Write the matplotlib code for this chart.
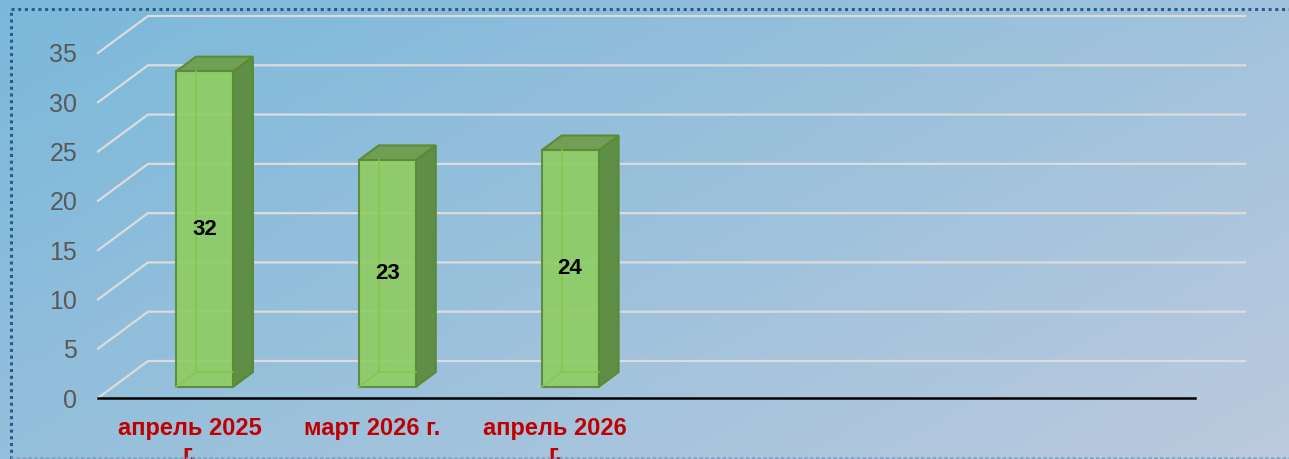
import numpy as np
import matplotlib.pyplot as plt
from matplotlib.patches import Polygon
from matplotlib.lines import Line2D

plt.rcParams['font.family'] = ['Liberation Sans', 'DejaVu Sans']

# данные
categories = ["апрель 2025\nг.", "март 2026 г.", "апрель 2026\nг.", "", "", ""]
values = [32, 23, 24]
yticks = [0, 5, 10, 15, 20, 25, 30, 35]

W, H = 1289, 459
fig = plt.figure(figsize=(W / 100, H / 100), dpi=100)

# фон с градиентом
bg = fig.add_axes([0, 0, 1, 1], zorder=-10)
gx, gy = np.meshgrid(np.linspace(0, 1, 300), np.linspace(0, 1, 120))
t = 0.6 * gx + 0.4 * gy
c0 = np.array([122, 184, 218]) / 255
c1 = np.array([188, 202, 222]) / 255
img = c0[None, None, :] * (1 - t[..., None]) + c1[None, None, :] * t[..., None]
bg.imshow(img, aspect="auto", extent=[0, 1, 0, 1], origin="upper")
bg.set_axis_off()

# рамка
fig.add_artist(Line2D([11 / W, 1], [1 - 9 / H, 1 - 9 / H], color="#2b5b8c", lw=2.2, ls=(0, (1, 1.2))))
fig.add_artist(Line2D([11 / W, 11 / W], [0, 1 - 9 / H], color="#2b5b8c", lw=2.2, ls=(0, (1, 1.2))))
fig.add_artist(Line2D([11 / W, 1], [1.5 / H, 1.5 / H], color="#7f9fbf", lw=1.2, ls=(0, (2, 1.5))))

# передняя плоскость графика
ax = fig.add_axes([98 / W, 61 / H, 1097 / W, 345 / H])
ax.set_facecolor("none")
ax.set_xlim(-0.5, 5.5)
ax.set_ylim(0, 35)

DX = 50 / (1097 / 6)   # глубина по x
DY = 37 / (345 / 35)   # глубина по y
f0, f1 = 0.3, 0.7
w = 57 / (1097 / 6)

# сетка на задней стенке
for v in yticks:
    ax.plot([-0.5, -0.5 + DX, 5.5 + DX], [v, v + DY, v + DY],
            color="#dcdcdc", lw=1.6, clip_on=False, zorder=1)

face = "#8fcd64"
side = "#5f8f47"
top = "#6e9e4e"
edge = "#5a8a32"
inner = "#86c44a"

xs = np.arange(len(values))
for x, v in zip(xs, values):
    l = x - w / 2
    r = x + w / 2
    # боковая грань
    ax.add_patch(Polygon([(r + f0 * DX, f0 * DY), (r + f1 * DX, f1 * DY),
                          (r + f1 * DX, f1 * DY + v), (r + f0 * DX, f0 * DY + v)],
                         closed=True, facecolor=side, edgecolor=edge, lw=1.5, zorder=3, clip_on=False))
    # верхняя грань
    ax.add_patch(Polygon([(l + f0 * DX, f0 * DY + v), (l + f1 * DX, f1 * DY + v),
                          (r + f1 * DX, f1 * DY + v), (r + f0 * DX, f0 * DY + v)],
                         closed=True, facecolor=top, edgecolor=edge, lw=1.5, zorder=3, clip_on=False, alpha=0.95))

ax.bar(xs + f0 * DX, values, width=w, bottom=f0 * DY, color=face, alpha=0.92,
       edgecolor=edge, linewidth=1.5, zorder=4, clip_on=False)

for x, v in zip(xs, values):
    l = x - w / 2
    r = x + w / 2
    # скрытые рёбра, видны сквозь грань
    kw = dict(color=inner, lw=1.2, zorder=4.5, clip_on=False, alpha=0.85)
    ax.plot([l + f1 * DX, l + f1 * DX], [f1 * DY, f0 * DY + v], **kw)
    ax.plot([l + f1 * DX, r + f0 * DX], [f1 * DY, f1 * DY], **kw)
    ax.plot([l + f0 * DX, l + f1 * DX], [f0 * DY, f1 * DY], **kw)
    ax.text(x + f0 * DX, f0 * DY + v / 2, str(v), ha="center", va="center",
            fontsize=16, fontweight="bold", color="black", zorder=5)

ax.set_yticks(yticks)
ax.set_xticks(np.arange(len(categories)))
ax.set_xticklabels(categories, fontsize=17, fontweight="bold", color="#c00000", linespacing=1.15)
ax.tick_params(axis="y", length=0, pad=15, labelsize=18, labelcolor="#595959")
ax.tick_params(axis="x", length=0, pad=14)
for s in ["top", "right", "left"]:
    ax.spines[s].set_visible(False)
ax.spines["bottom"].set_color("black")
ax.spines["bottom"].set_linewidth(1.8)
ax.spines["bottom"].set_zorder(6)

fig.savefig("out.png", dpi=100)
